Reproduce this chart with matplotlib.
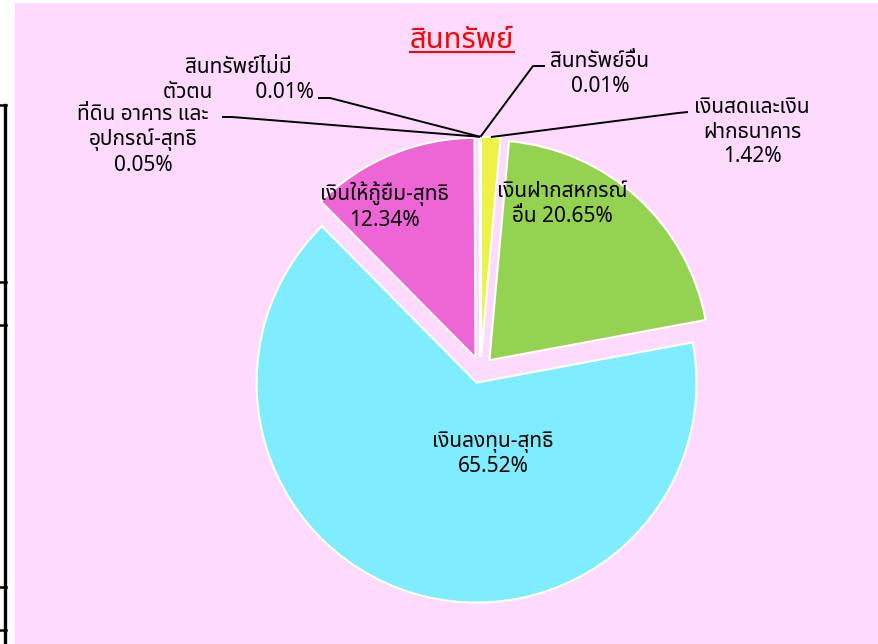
import numpy as np
import matplotlib
matplotlib.use('Agg')
import matplotlib.pyplot as plt
from matplotlib import font_manager
from matplotlib.ft2font import FT2Font
from matplotlib.patches import Rectangle
from matplotlib.lines import Line2D

# data
names = ['เงินสดและเงิน\nฝากธนาคาร', 'เงินฝากสหกรณ์\nอื่น', 'เงินลงทุน-สุทธิ', 'เงินให้กู้ยืม-สุทธิ',
         'ที่ดิน อาคาร และ\nอุปกรณ์-สุทธิ', 'สินทรัพย์ไม่มี\nตัวตน', 'สินทรัพย์อื่น']
shares = [1.42, 20.65, 65.52, 12.34, 0.05, 0.01, 0.01]
seps = ['\n', ' ', '\n', '\n', '\n', '        ', '\n']
colors = ['#EEF246', '#96D252', '#80ECFF', '#EE66D6', '#8FA8DC', '#F4A460', '#C0C0C0']
title = 'สินทรัพย์'

# label layout (pixel positions in the 879x644 picture)
label_pos = [(752, 132), (562, 204), (493, 454), (384, 206), (143, 140), (238, 80), (600, 74)]
leaders = {0: [(688, 112), (678, 113)], 4: [(222, 117), (232, 117)],
           5: [(318, 98), (330, 98)], 6: [(545, 66), (533, 66)]}

W, H = 879, 644
CX, CY, R = 480.5, 370, 220
PINK = '#FFDAFF'


def thai_family():
    found = []
    for f in font_manager.fontManager.ttflist:
        try:
            if 0x0E01 in FT2Font(f.fname).get_charmap():
                found.append(f.name)
        except Exception:
            pass
    for pref in ['Tahoma', 'Leelawadee UI', 'Noto Sans Thai', 'Noto Sans Thai UI', 'Loma', 'Garuda', 'Waree']:
        if pref in found:
            return pref
    return found[0] if found else None


tf = thai_family()
family = [tf, 'DejaVu Sans'] if tf else ['DejaVu Sans']


def px(x, y):
    return (x - CX) / R, (CY - y) / R


fig = plt.figure(figsize=(W / 100, H / 100), dpi=100)
fig.patch.set_facecolor('white')
fig.add_artist(Rectangle((15 / W, 0), (W - 15) / W, (H - 3) / H, transform=fig.transFigure,
                         facecolor=PINK, edgecolor='none', zorder=-5))
# bits of the table border on the left
fig.add_artist(Line2D([5 / W, 5 / W], [0, 1 - 105 / H], transform=fig.transFigure, color='black', lw=2.4))
for yy in [105, 282, 325, 587, 630]:
    fig.add_artist(Line2D([0, 6 / W], [1 - yy / H] * 2, transform=fig.transFigure, color='black', lw=1.8))

ax = fig.add_axes([0, 0, 1, 1])
ax.patch.set_visible(False)
wedges, _ = ax.pie(shares, colors=colors, startangle=90, counterclock=False, radius=1,
                   explode=[0.06] * len(shares),
                   wedgeprops=dict(edgecolor='white', linewidth=1.5))
ax.set_aspect('equal')
ax.set_xlim(-CX / R, (W - CX) / R)
ax.set_ylim(-(H - CY) / R, CY / R)
ax.axis('off')

for i, (nm, v) in enumerate(zip(names, shares)):
    txt = nm + seps[i] + f'{v:.2f}%'
    x, y = px(*label_pos[i])
    ax.text(x, y, txt, ha='center', va='center', fontsize=15, family=family,
            linespacing=1.22, color='black')
    if i in leaders:
        w = wedges[i]
        mid = np.deg2rad((w.theta1 + w.theta2) / 2)
        tip = (w.center[0] + w.r * np.cos(mid), w.center[1] + w.r * np.sin(mid))
        p1 = px(*leaders[i][0])
        p2 = px(*leaders[i][1])
        ax.plot([p1[0], p2[0], tip[0]], [p1[1], p2[1], tip[1]], color='black', lw=1.4,
                solid_capstyle='butt')

t = fig.text(462 / W, 1 - 48 / H, title, ha='center', va='baseline', fontsize=21,
             fontweight='bold', color='#FF0000', family=family)
fig.canvas.draw()
bb = t.get_window_extent()
fig.add_artist(Line2D([bb.x0 / W, bb.x1 / W], [1 - 52 / H] * 2, transform=fig.transFigure,
                      color='#FF0000', lw=1.5))

fig.savefig('out.png', dpi=100, facecolor='white')
